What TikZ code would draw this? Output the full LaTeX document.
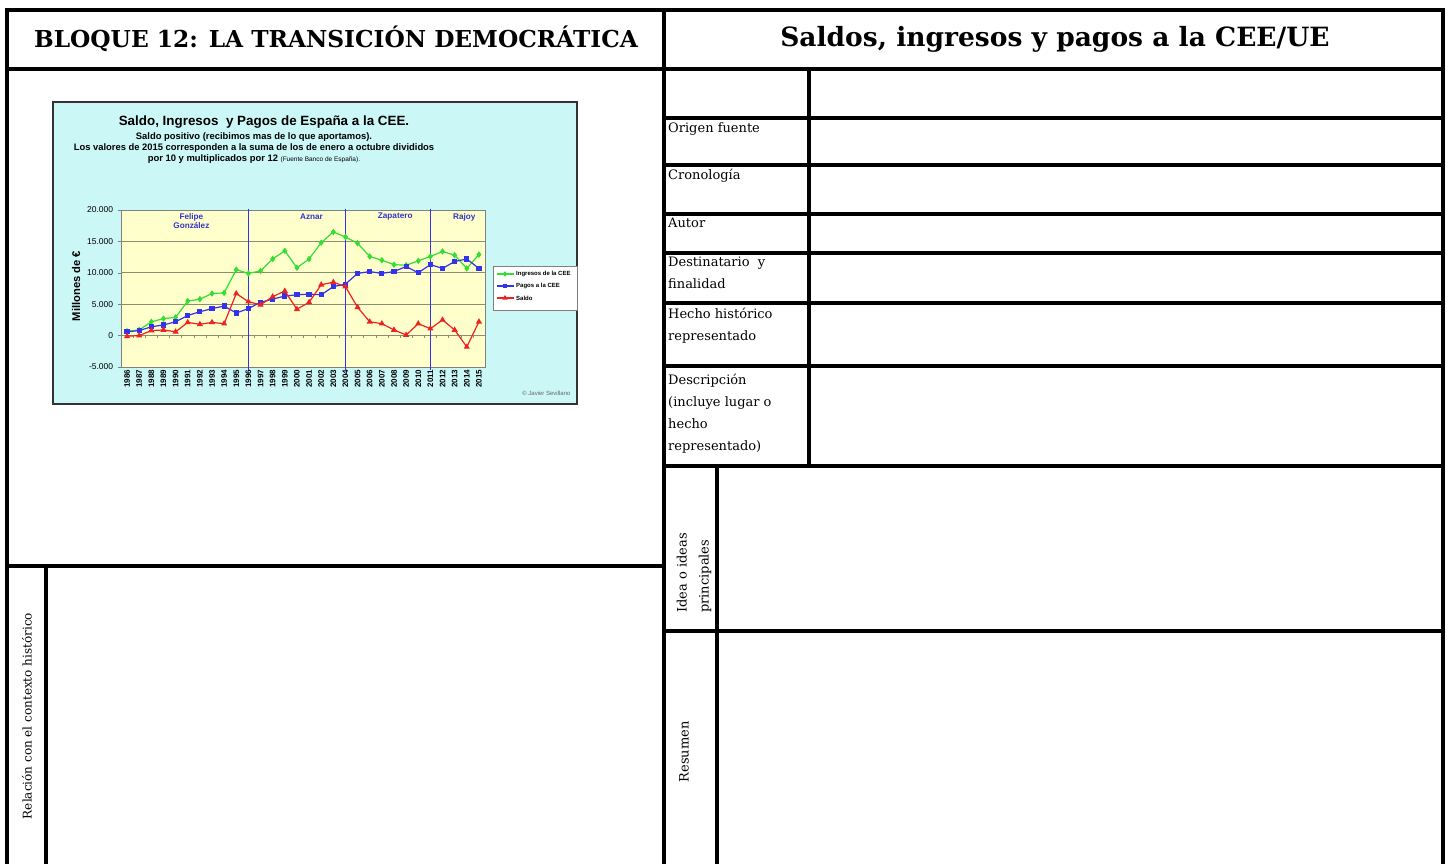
\documentclass[tikz,border=0pt]{standalone}
\usepackage{fontspec}
\setmainfont{DejaVu Serif}
\newfontfamily\chartfont{Liberation Sans}
\usetikzlibrary{plotmarks}

\definecolor{chartbg}{HTML}{CCF7F7}
\definecolor{plotbg}{HTML}{FFFFCC}
\definecolor{ingcol}{HTML}{33DD33}
\definecolor{pagcol}{HTML}{3333EE}
\definecolor{salcol}{HTML}{EE2222}
\definecolor{gridcol}{HTML}{8C8C70}
\definecolor{namecol}{HTML}{3333CC}

\tikzset{
  rule/.style={line width=3.8pt},
  celllbl/.style={anchor=north west, inner sep=0pt, align=left, font=\fontsize{13}{22}\selectfont},
  sidelbl/.style={rotate=90, inner sep=0pt, font=\fontsize{13}{22}\selectfont},
  ticklbl/.style={anchor=east, inner sep=1pt, font=\chartfont\fontsize{8.5}{9}\selectfont},
  yearlbl/.style={rotate=90, anchor=east, inner sep=1pt, font=\chartfont\bfseries\fontsize{8}{9}\selectfont},
  namelbl/.style={text=namecol, align=center, font=\chartfont\bfseries\fontsize{8.2}{9}\selectfont},
  leglbl/.style={anchor=west, inner sep=1pt, font=\chartfont\bfseries\fontsize{6}{7}\selectfont},
  serie/.style={line width=1.2pt}
}

\begin{document}
\begin{tikzpicture}[x=1pt,y=-1pt]
		\useasboundingbox (0,0) rectangle (1448,864);
		\begin{scope}
			\clip (0,0) rectangle (1448,864);
			% frame of the sheet
			\draw[rule] (7,864) -- (7,10) -- (1443,10) -- (1443,864);
			\draw[rule] (664,10) -- (664,864);
			\draw[rule] (7,69) -- (1443,69);

			% left half
			\draw[rule] (7,566) -- (664,566);
			\draw[rule] (46,566) -- (46,864);

			% right half
			\foreach \y in {118,165,214,253,303,366,466,631}
				\draw[rule] (664,\y) -- (1443,\y);
			\draw[rule] (809,69) -- (809,466);
			\draw[rule] (717,466) -- (717,864);
		\end{scope}

		\node[font=\bfseries\fontsize{23.3}{27}\selectfont] (bloque) at (336,39) {BLOQUE 12: LA TRANSICIÓN DEMOCRÁTICA};
		\node[font=\bfseries\fontsize{26.5}{30}\selectfont] (titulo) at (1055,39) {Saldos, ingresos y pagos a la CEE/UE};

		\node[celllbl] (origen) at (668,122) {Origen fuente};
		\node[celllbl] (crono) at (668,169) {Cronología};
		\node[celllbl] (autor) at (668,218) {Autor};
		\node[celllbl] (destino) at (668,257) {Destinatario\ \ y\\finalidad};
		\node[celllbl] (hecho) at (668,308) {Hecho histórico\\representado};
		\node[celllbl] (descr) at (668,374) {Descripción\\(incluye lugar o\\hecho\\representado)};
		\node[sidelbl, anchor=west, align=left] (idea) at (694,613) {Idea o ideas\\principales};
		\node[sidelbl] (resumen) at (684,752) {Resumen};
		\node[sidelbl, font=\fontsize{12}{14}\selectfont] (relacion) at (27,716) {Relación con el contexto histórico};

		% the chart
		\filldraw[fill=chartbg, draw=black!80, line width=2.5pt] (53,102) rectangle (577,404);
		\node[font=\chartfont\bfseries\fontsize{13.4}{15}\selectfont] (ctitulo) at (264,122) {Saldo, Ingresos\ \ y Pagos de España a la CEE.};
		\node[align=center, font=\chartfont\bfseries\fontsize{9.4}{10.6}\selectfont] (csub) at (254,148)
			{Saldo positivo (recibimos mas de lo que aportamos).\\
			 Los valores de 2015 corresponden a la suma de los de enero a octubre divididos\\
			 por 10 y multiplicados por 12 {\mdseries\fontsize{6.5}{7}\selectfont(Fuente Banco de España).}};
		\node[rotate=90, font=\chartfont\bfseries\fontsize{11.2}{12}\selectfont] (ytitulo) at (76,286) {Millones de €};
		\node[anchor=east, text=black!60, font=\chartfont\fontsize{6}{7}\selectfont] (copy) at (574,393) {© Javier Sevillano};

		\begin{scope}[shift={(127.07,335.6)}, x=12.133pt, y=6.28pt]
			\filldraw[fill=plotbg, draw=gray] (-0.5,-5) rectangle (29.5,20);
			\foreach \v in {5,10,15}
				\draw[gridcol, thick] (-0.5,\v) -- (29.5,\v);
			\draw[gridcol, thick] (-0.5,0) -- (29.5,0);
			\foreach \i in {0,...,29}
				\draw[gridcol] (\i+0.5,0) -- (\i+0.5,-0.4);
			\foreach \v/\t [count=\k] in {20/20.000,15/15.000,10/10.000,5/5.000,0/0,-5/-5.000}{
				\draw[gray] (-0.5,\v) -- (-0.75,\v);
				\node[ticklbl] (ytick\k) at (-1.05,\v) {\t};
			}
			\foreach \yr [count=\k from 0] in {1986,...,2015}
				\node[yearlbl] (yr\yr) at (\k,-5.3) {\yr};

			\foreach \i in {10,18,25}
				\draw[pagcol, line width=1.6pt] (\i,20.2) -- (\i,-5.5);
			\node[namelbl] (felipe) at (5.3,18.3) {Felipe\\González};
			\node[namelbl] (aznar) at (15.2,18.9) {Aznar};
			\node[namelbl] (zapatero) at (22.1,18.9) {Zapatero};
			\node[namelbl] (rajoy) at (27.8,18.9) {Rajoy};

			\draw[serie, color=ingcol] plot[mark=diamond*, mark size=2.3pt] coordinates {
				(0,0.7) (1,0.9) (2,2.2) (3,2.7) (4,2.9) (5,5.5) (6,5.8) (7,6.7) (8,6.8) (9,10.5)
				(10,9.9) (11,10.3) (12,12.2) (13,13.5) (14,10.8) (15,12.2) (16,14.8) (17,16.5) (18,15.7) (19,14.7)
				(20,12.6) (21,12.0) (22,11.3) (23,11.2) (24,11.9) (25,12.6) (26,13.4) (27,12.8) (28,10.7) (29,12.9)};
			\draw[serie, color=pagcol] plot[mark=square*, mark size=2pt] coordinates {
				(0,0.6) (1,0.8) (2,1.4) (3,1.7) (4,2.2) (5,3.2) (6,3.8) (7,4.3) (8,4.7) (9,3.6)
				(10,4.3) (11,5.3) (12,5.8) (13,6.3) (14,6.5) (15,6.6) (16,6.5) (17,7.8) (18,8.2) (19,9.9)
				(20,10.2) (21,9.9) (22,10.2) (23,11.0) (24,10.0) (25,11.3) (26,10.7) (27,11.8) (28,12.2) (29,10.7)};
			\draw[serie, color=salcol] plot[mark=triangle*, mark size=2.4pt] coordinates {
				(0,-0.1) (1,0.0) (2,0.8) (3,0.9) (4,0.6) (5,2.1) (6,1.8) (7,2.1) (8,1.9) (9,6.7)
				(10,5.4) (11,4.9) (12,6.2) (13,7.1) (14,4.2) (15,5.3) (16,8.1) (17,8.5) (18,7.8) (19,4.5)
				(20,2.2) (21,1.9) (22,0.9) (23,0.1) (24,1.9) (25,1.1) (26,2.5) (27,0.9) (28,-1.8) (29,2.2)};
		\end{scope}

		% legend
		\filldraw[fill=white, draw=gray] (493,266) rectangle (577,310);
		\draw[serie, color=ingcol] plot[mark=diamond*, mark size=1.8pt, mark indices={2}] coordinates {(497,274) (505,274) (514,274)};
		\draw[serie, color=pagcol] plot[mark=square*, mark size=1.6pt, mark indices={2}] coordinates {(497,286) (505,286) (514,286)};
		\draw[serie, color=salcol] plot[mark=triangle*, mark size=1.9pt, mark indices={2}] coordinates {(497,298) (505,298) (514,298)};
		\node[leglbl] (leging) at (515,274) {Ingresos de la CEE};
		\node[leglbl] (legpag) at (515,286) {Pagos a la CEE};
		\node[leglbl] (legsal) at (515,298) {Saldo};
		\end{tikzpicture}
\end{document}
